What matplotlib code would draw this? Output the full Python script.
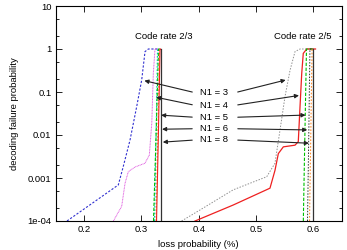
import numpy as np
import matplotlib
matplotlib.use("Agg")
import matplotlib.pyplot as plt
from matplotlib.ticker import LogLocator, NullFormatter, FixedLocator

plt.rcParams['font.family'] = ['Liberation Sans', 'DejaVu Sans']
plt.rcParams['font.size'] = 6.8

# code rate 2/3 curves (loss probability, failure probability)
r23_n3_x = [0.170, 0.2596, 0.268, 0.280, 0.2917, 0.3004, 0.3062, 0.312, 0.329]
r23_n3_y = [1e-4, 6.9e-4, 1.8e-3, 7.6e-3, 0.046, 0.19, 0.87, 1.0, 1.0]
r23_n4_x = [0.251, 0.2655, 0.2713, 0.277, 0.2887, 0.306, 0.3137, 0.318, 0.3207, 0.3236, 0.329]
r23_n4_y = [1e-4, 2.2e-4, 7.5e-4, 1.4e-3, 1.8e-3, 2.2e-3, 3.4e-3, 0.019, 0.27, 1.0, 1.0]
r23_n5_x = [0.3228, 0.3255, 0.328, 0.331]
r23_n5_y = [1e-4, 0.01, 1.0, 1.0]
r23_n6_x = [0.321, 0.3255, 0.3298, 0.332]
r23_n6_y = [1e-4, 0.01, 1.0, 1.0]
r23_n8_x = [0.3254, 0.3285, 0.3315, 0.3325]
r23_n8_y = [1e-4, 0.01, 1.0, 1.0]
r23_n8b_x = [0.3263, 0.3295, 0.3324, 0.3333]
r23_n8b_y = [1e-4, 0.01, 1.0, 1.0]

# code rate 2/5 curves
r25_n3_x = [0.370, 0.402, 0.460, 0.5186, 0.533, 0.5418, 0.5505, 0.5593, 0.568, 0.5767, 0.597]
r25_n3_y = [1e-4, 1.8e-4, 5.3e-4, 1.07e-3, 2.2e-3, 0.013, 0.078, 0.32, 0.87, 1.0, 1.0]
r25_n4_x = [0.3935, 0.460, 0.5243, 0.533, 0.5389, 0.5476, 0.568, 0.5737, 0.5767, 0.5797, 0.5824, 0.5884, 0.6038]
r25_n4_y = [1e-4, 2.35e-4, 5.8e-4, 1.5e-3, 3.7e-3, 5.3e-3, 5.8e-3, 7e-3, 0.045, 0.27, 0.79, 1.0, 1.0]
r25_n5_x = [0.5825, 0.5852, 0.588, 0.600]
r25_n5_y = [1e-4, 0.01, 1.0, 1.0]
r25_n6_x = [0.5898, 0.592, 0.594, 0.600]
r25_n6_y = [1e-4, 0.01, 1.0, 1.0]
r25_n8_x = [0.5933, 0.5955, 0.5977, 0.600]
r25_n8_y = [1e-4, 0.01, 1.0, 1.0]

# capacity limits (1 - rate)
limits = [1 / 3, 0.6]

labels = ['N1 = 3', 'N1 = 4', 'N1 = 5', 'N1 = 6', 'N1 = 8']
label_y = [0.0964, 0.049, 0.0258, 0.014, 0.00766]
arrow_left_x = [0.3004, 0.3207, 0.3294, 0.3311, 0.3324]
arrow_left_y = [0.19, 0.0778, 0.0292, 0.0136, 0.00676]
arrow_right_x = [0.5563, 0.5797, 0.5912, 0.5942, 0.5971]
arrow_right_y = [0.197, 0.085, 0.0292, 0.0131, 0.0064]

fig = plt.figure(figsize=(3.47, 2.5), dpi=100)
ax = fig.add_axes([0.16, 0.116, 0.8256, 0.86])

ax.plot(r23_n3_x, r23_n3_y, color='#3030d0', lw=0.8, ls=(0, (2, 1.5)))
ax.plot(r23_n4_x, r23_n4_y, color='#e060e0', lw=0.7, ls=(0, (1, 0.6)))
ax.plot(r23_n5_x, r23_n5_y, color='#00c8c8', lw=0.8, ls=(0, (1.5, 1.5)))
ax.plot(r23_n6_x, r23_n6_y, color='#00c000', lw=0.8, ls=(0, (3, 1.5)))
ax.plot(r23_n8_x, r23_n8_y, color='#ff9030', lw=0.8, ls=(0, (1.5, 1.5)))
ax.plot(r23_n8b_x, r23_n8b_y, color='#ee2020', lw=0.8)

ax.plot(r25_n3_x, r25_n3_y, color='#909090', lw=0.7, ls=(0, (1.5, 1.5)))
ax.plot(r25_n4_x, r25_n4_y, color='#ee2020', lw=0.9)
ax.plot(r25_n5_x, r25_n5_y, color='#00c000', lw=0.8, ls=(0, (3, 1.5)))
ax.plot(r25_n6_x, r25_n6_y, color='#303030', lw=0.7, ls=(0, (1.5, 1.5)))
ax.plot(r25_n8_x, r25_n8_y, color='#ff9030', lw=0.8, ls=(0, (1.5, 1.5)))

for lim in limits:
    ax.plot([lim, lim], [1e-4, 1.0], color='#333333', lw=0.9)

ax.text(0.3395, 1.93, 'Code rate 2/3', ha='center', va='center')
ax.text(0.582, 1.93, 'Code rate 2/5', ha='center', va='center')

aprops = dict(arrowstyle='-|>', color='#222222', lw=0.8, mutation_scale=6)
for lab, ly, lx0, ly0, rx0, ry0 in zip(labels, label_y, arrow_left_x, arrow_left_y,
                                      arrow_right_x, arrow_right_y):
    ax.text(0.426, ly, lab, ha='center', va='center')
    ax.annotate('', xy=(lx0, ly0), xytext=(0.3934, ly), arrowprops=aprops)
    ax.annotate('', xy=(rx0, ry0), xytext=(0.4633, ly), arrowprops=aprops)

ax.set_yscale('log')
ax.set_xlim(0.15, 0.65)
ax.set_ylim(1e-4, 10)
ax.xaxis.set_major_locator(FixedLocator([0.2, 0.3, 0.4, 0.5, 0.6]))
ax.set_xticklabels(['0.2', '0.3', '0.4', '0.5', '0.6'])
ax.yaxis.set_major_locator(FixedLocator([1e-4, 1e-3, 1e-2, 0.1, 1, 10]))
ax.set_yticklabels(['1e-04', '0.001', '0.01', '0.1', '1', '10'])
ax.yaxis.set_minor_locator(LogLocator(base=10, subs=(2.0, 5.0)))
ax.yaxis.set_minor_formatter(NullFormatter())
ax.tick_params(which='both', direction='in', top=True, right=True, width=0.6)
ax.tick_params(which='major', length=4, pad=3)
ax.tick_params(which='minor', length=2)
for s in ax.spines.values():
    s.set_linewidth(0.8)

ax.set_xlabel('loss probability (%)', labelpad=4)
ax.set_ylabel('decoding failure probability', labelpad=6)

fig.savefig('out.png', dpi=100)
